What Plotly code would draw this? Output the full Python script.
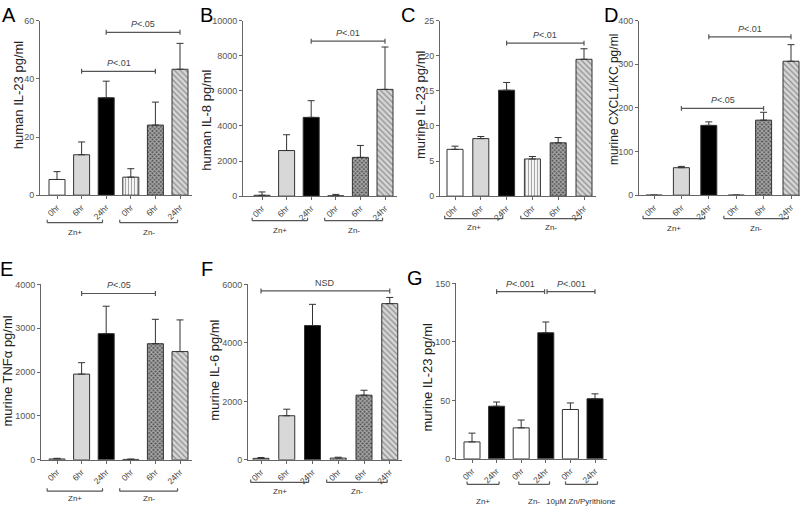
import plotly.graph_objects as go

W, H = 800, 507
FONT = "Arial, 'Liberation Sans', sans-serif"

# ---------------- data ----------------
hours6 = ["0hr", "6hr", "24hr", "0hr", "6hr", "24hr"]
hours_g = ["0hr", "24hr", "0hr", "24hr", "0hr", "24hr"]
groups6 = ["Zn+", "Zn-"]
groups_g = ["Zn+", "Zn-", "10μM Zn/Pyrithione"]

a_mean = [5.4, 13.9, 33.5, 6.2, 24.1, 43.3]
a_err = [2.7, 4.4, 5.7, 2.9, 7.9, 8.9]
b_mean = [50, 2600, 4490, 20, 2210, 6085]
b_err = [190, 900, 950, 80, 680, 2415]
c_mean = [6.67, 8.2, 15.1, 5.3, 7.6, 19.5]
c_err = [0.45, 0.3, 1.1, 0.35, 0.75, 1.5]
d_mean = [0, 63, 160, 0, 172, 307]
d_err = [0, 3, 8, 0, 18, 38]
e_mean = [20, 1955, 2877, 10, 2647, 2468]
e_err = [15, 260, 625, 8, 557, 722]
f_mean = [50, 1508, 4592, 60, 2212, 5341]
f_err = [30, 224, 726, 30, 168, 212]
g_mean = [14.5, 45, 26.5, 107.8, 42.2, 51.4]
g_err = [7.5, 3.6, 6.7, 9.2, 5.6, 4.2]

a_sig = [(1, 4, 42.6, "P<.01"), (2, 5, 56, "P<.05")]
b_sig = [(2, 5, 8830, "P<.01")]
c_sig = [(2, 5, 21.8, "P<.01")]
d_sig = [(1, 4, 199, "P<.05"), (2, 5, 363, "P<.01")]
e_sig = [(1, 4, 3792, "P<.05")]
f_sig = [(0, 5, 5776, "NSD")]
g_sig = [(1, 2.95, 143, "P<.001"), (3.05, 5, 143, "P<.001")]

titles = ["human IL-23 pg/ml", "human IL-8 pg/ml", "murine IL-23 pg/ml",
          "murine CXCL1/KC pg/ml", "murine TNFα pg/ml", "murine IL-6 pg/ml",
          "murine IL-23 pg/ml"]
letters = ["A", "B", "C", "D", "E", "F", "G"]
ymax = [60, 10000, 25, 400, 4000, 6000, 150]
ydtick = [20, 2000, 5, 100, 1000, 2000, 50]

# ---------------- styles ----------------
style6 = dict(
    color=["white", "#d8d8d8", "black", "#f4f4f4", "#555555", "#d6d6d6"],
    shape=["", "", "", "|", "x", "\\"],
    fg=["black", "black", "black", "#a0a0a0", "#111111", "#8c8c8c"],
    size=[4, 4, 4, 3, 3, 4],
    sol=[0.3, 0.3, 0.3, 0.3, 0.6, 0.3],
)
styleg = dict(
    color=["white", "black"] * 3,
    shape=[""] * 6,
    fg=["black"] * 6,
    size=[4] * 6,
    sol=[0.3] * 6,
)

span6 = [(-0.4, 1.85), (2.55, 4.9)]
spang = [(-0.2, 1.1), (1.9, 3.15), (3.8, 5.1)]

# geometry (pixels): left axis, first bar centre, unit, top, bottom
geo = [
    dict(left=40, c1=57, unit=24.6, top=16, bottom=194, gb=(28, 38), tx=(18, 92), lx=(9, 10), tf=13),
    dict(left=243, c1=262, unit=24.6, top=16, bottom=195, gb=(25, 35), tx=(207, 117), lx=(207, 10), tf=13),
    dict(left=440, c1=455, unit=25.8, top=16, bottom=195, gb=(23, 32), tx=(421, 102), lx=(408, 10), tf=13),
    dict(left=639, c1=654, unit=27.4, top=16, bottom=194, gb=(24, 34), tx=(614, 97), lx=(611, 10), tf=12),
    dict(left=41, c1=57, unit=24.6, top=285, bottom=464, gb=(32, 39), tx=(8, 374), lx=(6, 269), tf=13),
    dict(left=248, c1=261, unit=25.75, top=285, bottom=464, gb=(23, 32), tx=(215, 373), lx=(207, 269), tf=13),
    dict(left=456, c1=472, unit=24.6, top=284, bottom=463, gb=(26, 43), tx=(428, 380), lx=(415, 279), tf=13),
]

means = [a_mean, b_mean, c_mean, d_mean, e_mean, f_mean, g_mean]
errs = [a_err, b_err, c_err, d_err, e_err, f_err, g_err]
sigs = [a_sig, b_sig, c_sig, d_sig, e_sig, f_sig, g_sig]
ticks = [hours6] * 6 + [hours_g]
groups = [groups6] * 6 + [groups_g]
spans = [span6] * 6 + [spang]
styles = [style6] * 6 + [styleg]

fig = go.Figure()
shapes = []
annos = []
layout = dict(width=W, height=H, margin=dict(l=0, r=0, t=0, b=0),
              paper_bgcolor="white", plot_bgcolor="white", showlegend=False,
              font=dict(family=FONT, color="#444"))

AX = "#666666"

for i in range(7):
    g = geo[i]
    sfx = "" if i == 0 else str(i + 1)
    xa, ya = "x" + sfx, "y" + sfx
    n = len(means[i])
    right = min(g["c1"] + (n - 1) * g["unit"] + 12, W)
    x0r = -(g["c1"] - g["left"]) / g["unit"]
    x1r = (right - g["c1"]) / g["unit"]
    ph = g["bottom"] - g["top"]
    st = styles[i]
    xs = list(range(n))
    fig.add_trace(go.Bar(
        x=xs, y=means[i], xaxis=xa, yaxis=ya, width=16 / g["unit"],
        marker=dict(color=st["color"], line=dict(color="#333333", width=1),
                    pattern=dict(shape=st["shape"], fgcolor=st["fg"],
                                 size=st["size"], solidity=st["sol"], fillmode="overlay")),
        error_y=dict(type="data", symmetric=False, array=errs[i], arrayminus=[0] * n,
                     color="#333333", thickness=1, width=3.5),
        hoverinfo="skip",
    ))
    layout["xaxis" + sfx] = dict(
        domain=[g["left"] / W, right / W], range=[x0r, x1r], anchor=ya,
        showline=True, linecolor=AX, linewidth=1, ticks="outside", ticklen=3,
        tickcolor=AX, tickvals=xs, ticktext=ticks[i], tickangle=-45,
        tickfont=dict(size=8.5, color="#444"), showgrid=False, zeroline=False, fixedrange=True)
    layout["yaxis" + sfx] = dict(
        domain=[1 - g["bottom"] / H, 1 - g["top"] / H], range=[0, ymax[i]], anchor=xa,
        showline=True, linecolor=AX, linewidth=1, ticks="outside", ticklen=3,
        tickcolor=AX, dtick=ydtick[i], tick0=0, tickformat="d",
        tickfont=dict(size=9, color="#555"),
        showgrid=False, zeroline=False, fixedrange=True)

    # significance brackets
    hh = 2.5 * ymax[i] / ph
    for (s0, s1, yv, lab) in sigs[i]:
        for (xa0, ya0, xa1, ya1) in [(s0, yv, s1, yv), (s0, yv - hh, s0, yv + hh), (s1, yv - hh, s1, yv + hh)]:
            shapes.append(dict(type="line", xref=xa, yref=ya, x0=xa0, y0=ya0, x1=xa1, y1=ya1,
                               line=dict(color="#555555", width=1.2)))
        txt = lab.replace("<", "&lt;")
        if txt.startswith("P"):
            txt = "<i>P</i>" + txt[1:]
        annos.append(dict(x=(s0 + s1) / 2, y=yv, xref=xa, yref=ya, text=txt, showarrow=False,
                          yanchor="bottom", yshift=1, font=dict(size=9, color="#444")))

    # group brackets under axis
    yl = 1 - (g["bottom"] + g["gb"][0]) / H
    yt = 1 - (g["bottom"] + g["gb"][1]) / H
    up = 3 / H
    for (gx0, gx1), gl in zip(spans[i], groups[i]):
        for (a0, b0, a1, b1) in [(gx0, yl, gx1, yl), (gx0, yl, gx0, yl + up), (gx1, yl, gx1, yl + up)]:
            shapes.append(dict(type="line", xref=xa, yref="paper", x0=a0, y0=b0, x1=a1, y1=b1,
                               line=dict(color="#555555", width=1.2)))
        annos.append(dict(x=(gx0 + gx1) / 2, y=yt, xref=xa, yref="paper", text=gl,
                          showarrow=False, yanchor="middle", font=dict(size=8, color="#333")))

    # y-axis title
    annos.append(dict(x=g["tx"][0] / W, y=1 - g["tx"][1] / H, xref="paper", yref="paper",
                      text=titles[i], textangle=-90, showarrow=False, xanchor="center",
                      yanchor="middle", font=dict(size=g["tf"], color="#222")))
    # panel letter
    annos.append(dict(x=g["lx"][0] / W, y=1 - g["lx"][1] / H, xref="paper", yref="paper",
                      text=letters[i], showarrow=False, xanchor="center", yanchor="middle",
                      font=dict(size=20, color="black")))

layout["shapes"] = shapes
layout["annotations"] = annos
fig.update_layout(**layout)
fig.write_html("out.html", config={"displayModeBar": False},
               post_script="document.body.style.margin='0';document.body.style.overflow='hidden';")
